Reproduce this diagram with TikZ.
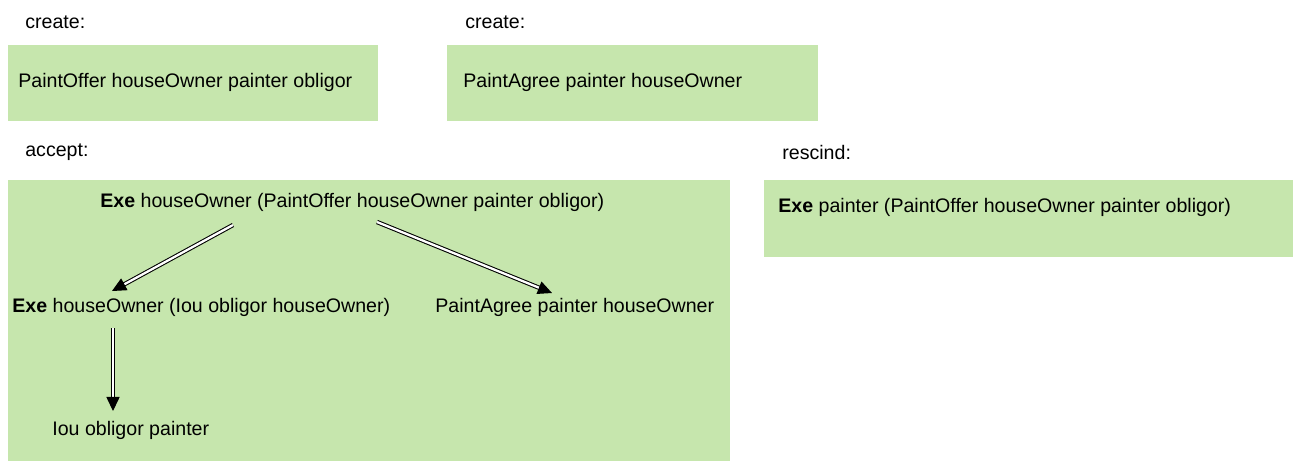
\documentclass[tikz,border=0pt]{standalone}
\usepackage{fontspec}
\setmainfont{Liberation Sans}
\usetikzlibrary{positioning, arrows.meta, calc}
\definecolor{boxgreen}{HTML}{C6E6AD}

\begin{document}
\begin{tikzpicture}[x=0.02cm, y=-0.02cm, font=\fontsize{11.15pt}{13pt}\selectfont,
  box/.style={fill=boxgreen, draw=none},
  txt/.style={anchor=west, inner sep=0pt},
  impl/.style={double, double distance=1.3pt, line width=0.6pt, -{Triangle[length=8pt, width=7.5pt]}}]
\useasboundingbox (0,0) rectangle (1293,461);
\fill[box] (8,45) rectangle (378,121);
\fill[box] (447,45) rectangle (818,121);
\fill[box] (8,180) rectangle (730,461);
\fill[box] (764,180) rectangle (1293,257);
\node (create1) [txt] at (25,22) {create:};
\node (create2) [txt] at (465,22) {create:};
\node (accept) [txt] at (25,152) {accept:};
\node (rescind) [txt] at (782,152) {rescind:};
\node (offer) [txt] at (18,82) {PaintOffer houseOwner painter obligor};
\node (agree) [txt] at (463,82) {PaintAgree painter houseOwner};
\node (exeP) [txt] at (778,207) {\textbf{Exe} painter (PaintOffer houseOwner painter obligor)};
\node (exeH) [txt] at (100,202) {\textbf{Exe} houseOwner (PaintOffer houseOwner painter obligor)};
\node (exeIou) [txt] at (12,307) {\textbf{Exe} houseOwner (Iou obligor houseOwner)};
\node (agree2) [txt] at (435,307) {PaintAgree painter houseOwner};
\node (iou) [txt] at (52,430) {Iou obligor painter};
\draw[impl] ($(exeH.west)+(133,23)$) -- ($(exeIou.west)+(100,-16)$);
\draw[impl] ($(exeH.west)+(277,20)$) -- ($(agree2.west)+(117,-14)$);
\draw[impl] ($(exeIou.west)+(101,21)$) -- ($(iou.west)+(61,-19)$);
\end{tikzpicture}
\end{document}
